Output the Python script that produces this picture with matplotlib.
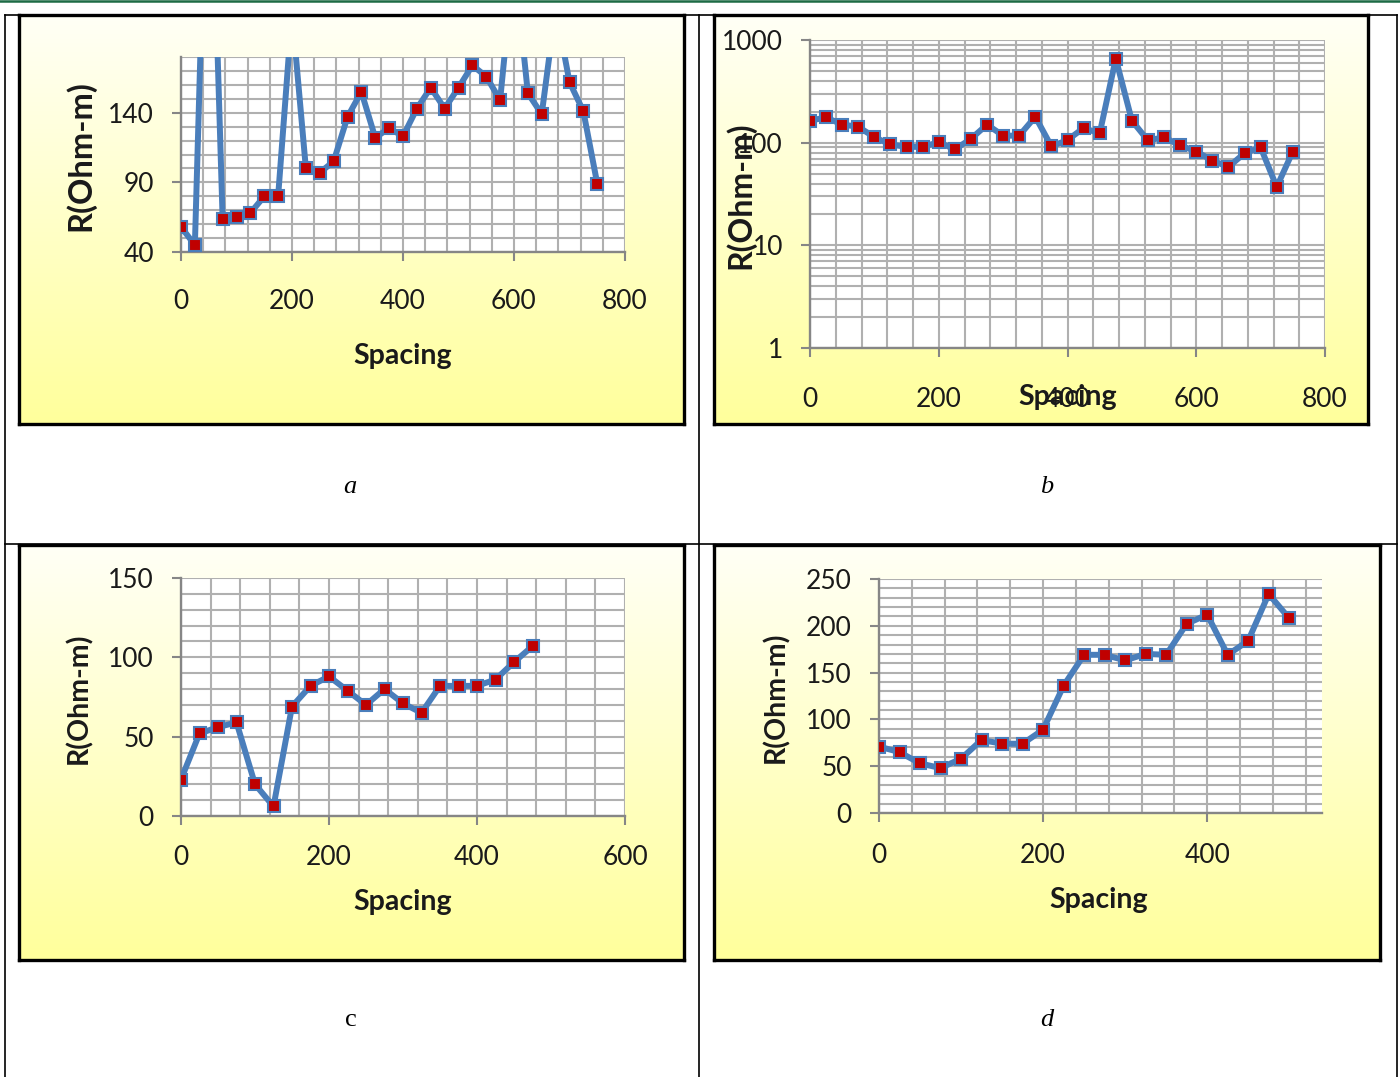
import matplotlib
matplotlib.use("Agg")
import matplotlib.pyplot as plt
import numpy as np
from matplotlib.ticker import MultipleLocator, FixedLocator, LogLocator, NullFormatter
from matplotlib.lines import Line2D

# ---------------- data ----------------
spacing_a = [0, 25, 50, 75, 100, 125, 150, 175, 200, 225, 250, 275, 300, 325, 350, 375,
             400, 425, 450, 475, 500, 525, 550, 575, 600, 625, 650, 675, 700, 725, 750]
res_a = [58, 45, 390, 64, 65, 68, 80, 80, 212, 100, 97, 105, 137, 155, 122, 129,
         123, 143, 158, 143, 158, 174, 166, 149, 250, 154, 139, 215, 162, 141, 89]

spacing_b = [0, 25, 50, 75, 100, 125, 150, 175, 200, 225, 250, 275, 300, 325, 350, 375,
             400, 425, 450, 475, 500, 525, 550, 575, 600, 625, 650, 675, 700, 725, 750]
res_b = [164, 176, 150, 143, 113, 96, 91, 91, 101, 86, 109, 150, 117, 117, 179, 92,
         106, 139, 123, 659, 164, 105, 113, 94, 82, 67, 58, 79, 90, 37, 82]

spacing_c = [0, 25, 50, 75, 100, 125, 150, 175, 200, 225, 250, 275, 300, 325, 350, 375,
             400, 425, 450, 475]
res_c = [23, 52, 56, 59, 20, 6, 69, 82, 88, 79, 70, 80, 71, 65, 82, 82, 82, 86, 97, 107]

spacing_d = [0, 25, 50, 75, 100, 125, 150, 175, 200, 225, 250, 275, 300, 325, 350, 375,
             400, 425, 450, 475, 500]
res_d = [71, 65, 53, 48, 58, 78, 74, 74, 89, 136, 169, 169, 163, 170, 169, 202,
         212, 169, 184, 234, 208]

x_ticks_a = [0, 200, 400, 600, 800]
y_ticks_a = [40, 90, 140]
x_ticks_b = [0, 200, 400, 600, 800]
y_ticks_b = [1, 10, 100, 1000]
x_ticks_c = [0, 200, 400, 600]
y_ticks_c = [0, 50, 100, 150]
x_ticks_d = [0, 200, 400]
y_ticks_d = [0, 50, 100, 150, 200, 250]
captions = ["a", "b", "c", "d"]
x_title = "Spacing"
y_title = "R(Ohm-m)"

W, H = 1400, 1077
DPI = 100
FONT = ["Lato", "DejaVu Sans"]
plt.rcParams["font.family"] = FONT

fig = plt.figure(figsize=(W / DPI, H / DPI), dpi=DPI)
fig.patch.set_facecolor("white")


def fx(x):
    return x / W


def fy(y):
    return 1 - y / H


def px_axes(x0, y0, x1, y1, **kw):
    return fig.add_axes([x0 / W, 1 - y1 / H, (x1 - x0) / W, (y1 - y0) / H], **kw)


# gradient for chart areas
grad = np.linspace(0, 1, 256).reshape(-1, 1)
top_col = np.array([1.0, 1.0, 0.965])
bot_col = np.array([1.0, 1.0, 0.61])
img = top_col[None, None, :] * (1 - grad[:, :, None]) + bot_col[None, None, :] * grad[:, :, None]


def chart_box(x0, y0, x1, y1):
    bg = px_axes(x0, y0, x1, y1)
    bg.imshow(img, aspect="auto", extent=[0, 1, 0, 1], origin="upper")
    bg.set_xlim(0, 1)
    bg.set_ylim(0, 1)
    bg.set_xticks([])
    bg.set_yticks([])
    for s in bg.spines.values():
        s.set_linewidth(2.4)
        s.set_color("black")
    bg.set_zorder(0)
    return bg


GRID = "#b0b0b0"
AXC = "#868686"
LINEC = "#4a7ebb"
MARKC = "#c00000"


def style_plot(ax, xpad):
    ax.set_facecolor("white")
    ax.set_zorder(2)
    for k in ["top", "right"]:
        ax.spines[k].set_visible(False)
    for k in ["left", "bottom"]:
        ax.spines[k].set_color(AXC)
        ax.spines[k].set_linewidth(1.7)
    ax.grid(True, which="both", color=GRID, linewidth=1.5)
    ax.set_axisbelow(True)
    ax.tick_params(which="major", direction="out", length=6.5, width=1.5, color=AXC,
                   labelsize=19, labelcolor="#1a1a1a")
    ax.tick_params(which="minor", length=0)
    ax.tick_params(axis="x", pad=xpad)
    ax.tick_params(axis="y", pad=13)


def draw_series(ax, x, y):
    ax.plot(x, y, color=LINEC, linewidth=4.3, marker="s", markersize=8.5,
            markerfacecolor=MARKC, markeredgecolor=LINEC, markeredgewidth=1.5,
            solid_joinstyle="round", zorder=3)


# ---- page lines ----
fig.add_artist(Line2D([0, 1], [fy(0.8), fy(0.8)], transform=fig.transFigure,
                      color="#1d6b45", linewidth=1.8))
for xx in [4.5, 699, 1396.5]:
    fig.add_artist(Line2D([fx(xx), fx(xx)], [fy(15), fy(1077)], transform=fig.transFigure,
                          color="black", linewidth=1.2))
for yy in [15, 543.5]:
    fig.add_artist(Line2D([fx(4.5), fx(1396.5)], [fy(yy), fy(yy)], transform=fig.transFigure,
                          color="black", linewidth=1.2))

# ---- chart boxes ----
chart_box(19, 15, 684, 424)
chart_box(714, 15, 1368, 424)
chart_box(19, 545, 684, 960)
chart_box(714, 545, 1380, 960)

# ---- panel a ----
axa = px_axes(181, 57, 625, 252)
style_plot(axa, 20)
draw_series(axa, spacing_a, res_a)
axa.set_xlim(0, 800)
axa.set_ylim(40, 180)
axa.xaxis.set_major_locator(FixedLocator(x_ticks_a))
axa.yaxis.set_major_locator(FixedLocator(y_ticks_a))
axa.xaxis.set_minor_locator(MultipleLocator(40))
axa.yaxis.set_minor_locator(MultipleLocator(10))

# ---- panel b ----
axb = px_axes(810, 40, 1325, 348)
style_plot(axb, 21.5)
axb.set_yscale("log")
draw_series(axb, spacing_b, res_b)
axb.set_xlim(0, 800)
axb.set_ylim(1, 1000)
axb.xaxis.set_major_locator(FixedLocator(x_ticks_b))
axb.yaxis.set_major_locator(FixedLocator(y_ticks_b))
axb.set_yticklabels([str(v) for v in y_ticks_b])
axb.xaxis.set_minor_locator(MultipleLocator(40))
axb.yaxis.set_minor_locator(LogLocator(base=10, subs=np.arange(2, 10)))
axb.yaxis.set_minor_formatter(NullFormatter())
axb.tick_params(which="minor", length=0)

# ---- panel c ----
axc = px_axes(181, 578, 625, 816)
style_plot(axc, 14.5)
draw_series(axc, spacing_c, res_c)
axc.set_xlim(0, 600)
axc.set_ylim(0, 150)
axc.xaxis.set_major_locator(FixedLocator(x_ticks_c))
axc.yaxis.set_major_locator(FixedLocator(y_ticks_c))
axc.xaxis.set_minor_locator(MultipleLocator(40))
axc.yaxis.set_minor_locator(MultipleLocator(10))

# ---- panel d ----
axd = px_axes(879, 579, 1322, 813)
style_plot(axd, 15)
draw_series(axd, spacing_d, res_d)
axd.set_xlim(0, 540)
axd.set_ylim(0, 250)
axd.xaxis.set_major_locator(FixedLocator(x_ticks_d))
axd.yaxis.set_major_locator(FixedLocator(y_ticks_d))
axd.xaxis.set_minor_locator(MultipleLocator(40))
axd.yaxis.set_minor_locator(MultipleLocator(10))

# ---- axis titles ----
lab_kw = dict(fontweight="bold", color="#1a1a1a", ha="center", va="center", zorder=5)
for (x, y) in [(403, 356), (1068, 397), (403, 902), (1099, 900)]:
    fig.text(fx(x), fy(y), x_title, fontsize=20.5, **lab_kw)
for (x, y), fs in zip([(80, 156), (740, 195), (79, 698), (776, 697)], [23.5, 23, 20.5, 20.5]):
    fig.text(fx(x), fy(y), y_title, rotation=90, fontsize=fs, **lab_kw)

# ---- captions ----
cap_pos = [(350, 487), (1047, 487), (351, 1020), (1047, 1020)]
cap_style = ["italic", "italic", "normal", "italic"]
for c, (x, y), st in zip(captions, cap_pos, cap_style):
    fig.text(fx(x), fy(y), c, fontsize=19, style=st, family=["Liberation Serif", "DejaVu Serif"],
             ha="center", va="center", color="black")

fig.savefig("out.png", dpi=DPI, facecolor="white")
